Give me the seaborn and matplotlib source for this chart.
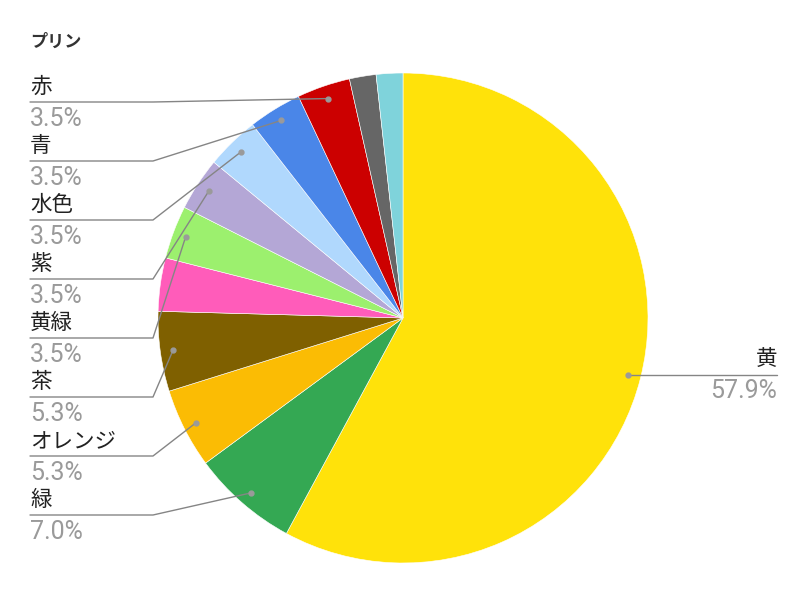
import numpy as np
import matplotlib
matplotlib.use("Agg")
import matplotlib.pyplot as plt
import seaborn as sns

# ---- data ----
title = "プリン"
names = ["黄", "緑", "オレンジ", "茶", "ピンク", "黄緑", "紫", "水色", "青", "赤", "灰色", "シアン"]
counts = [33, 4, 3, 3, 2, 2, 2, 2, 2, 2, 1, 1]
show_label = [True, True, True, True, False, True, True, True, True, True, False, False]
colors = ["#FFE20A", "#34A853", "#FBBC04", "#7F6000", "#FF5CBA", "#9CF06E",
          "#B4A7D6", "#B0D8FD", "#4A86E8", "#CC0000", "#666666", "#7FD3DB"]

sns.set_style("white")
plt.rcParams['font.family'] = ['Noto Sans CJK JP', 'DejaVu Sans']

W, H = 807, 592
fig = plt.figure(figsize=(W / 100, H / 100), dpi=100)
ax = fig.add_axes([0, 0, 1, 1])

cx, cy, R = 403, H - 318, 245
palette = sns.color_palette(colors)
wedges, _ = ax.pie(counts, colors=palette, startangle=90, counterclock=False,
                   center=(cx, cy), radius=R,
                   wedgeprops=dict(linewidth=0.4, edgecolor="white"))
ax.set_xlim(0, W)
ax.set_ylim(0, H)
ax.set_aspect('equal')
ax.axis('off')

total = sum(counts)
line_col = "#858585"
dot_col = "#9a9a9a"
name_col = "#222222"
pct_col = "#9a9a9a"
fs_name = 15.5
fs_pct = 18
pct_family = ['Roboto', 'DejaVu Sans']

def Y(y):
    return H - y

# left-side label rows, top to bottom
left_idx = [i for i in range(len(names)) if show_label[i] and i != 0][::-1]
row0, step, elbow_x, lx = 102, 59, 153, 30

for i, w in enumerate(wedges):
    if not show_label[i]:
        continue
    th = np.deg2rad((w.theta1 + w.theta2) / 2)
    px = cx + 0.947 * R * np.cos(th)
    py = cy + 0.947 * R * np.sin(th)
    pct = f"{100 * counts[i] / total:.1f}%"
    if i == 0:
        ex = 777
        ax.plot([px, ex], [py, py], color=line_col, lw=1, zorder=3)
        ax.plot(px, py, 'o', ms=3.5, color=dot_col, zorder=4)
        ax.text(ex, py + 15.5, names[i], ha='right', va='center', fontsize=fs_name, color=name_col)
        ax.text(ex, py - 16.5, pct, ha='right', va='center', fontsize=fs_pct, color=pct_col,
                family=pct_family)
    else:
        r = left_idx.index(i)
        ly = Y(row0 + step * r)
        ax.plot([lx, elbow_x, px], [ly, ly, py], color=line_col, lw=1, zorder=3)
        ax.plot(px, py, 'o', ms=3.5, color=dot_col, zorder=4)
        ax.text(lx, ly + 15, names[i], ha='left', va='center', fontsize=fs_name, color=name_col)
        ax.text(lx, ly - 17, pct, ha='left', va='center', fontsize=fs_pct, color=pct_col,
                family=pct_family)

ax.text(30, Y(42), title, ha='left', va='center', fontsize=12.3, fontweight='bold',
        color="#333333")

fig.savefig("out.png", dpi=100)
